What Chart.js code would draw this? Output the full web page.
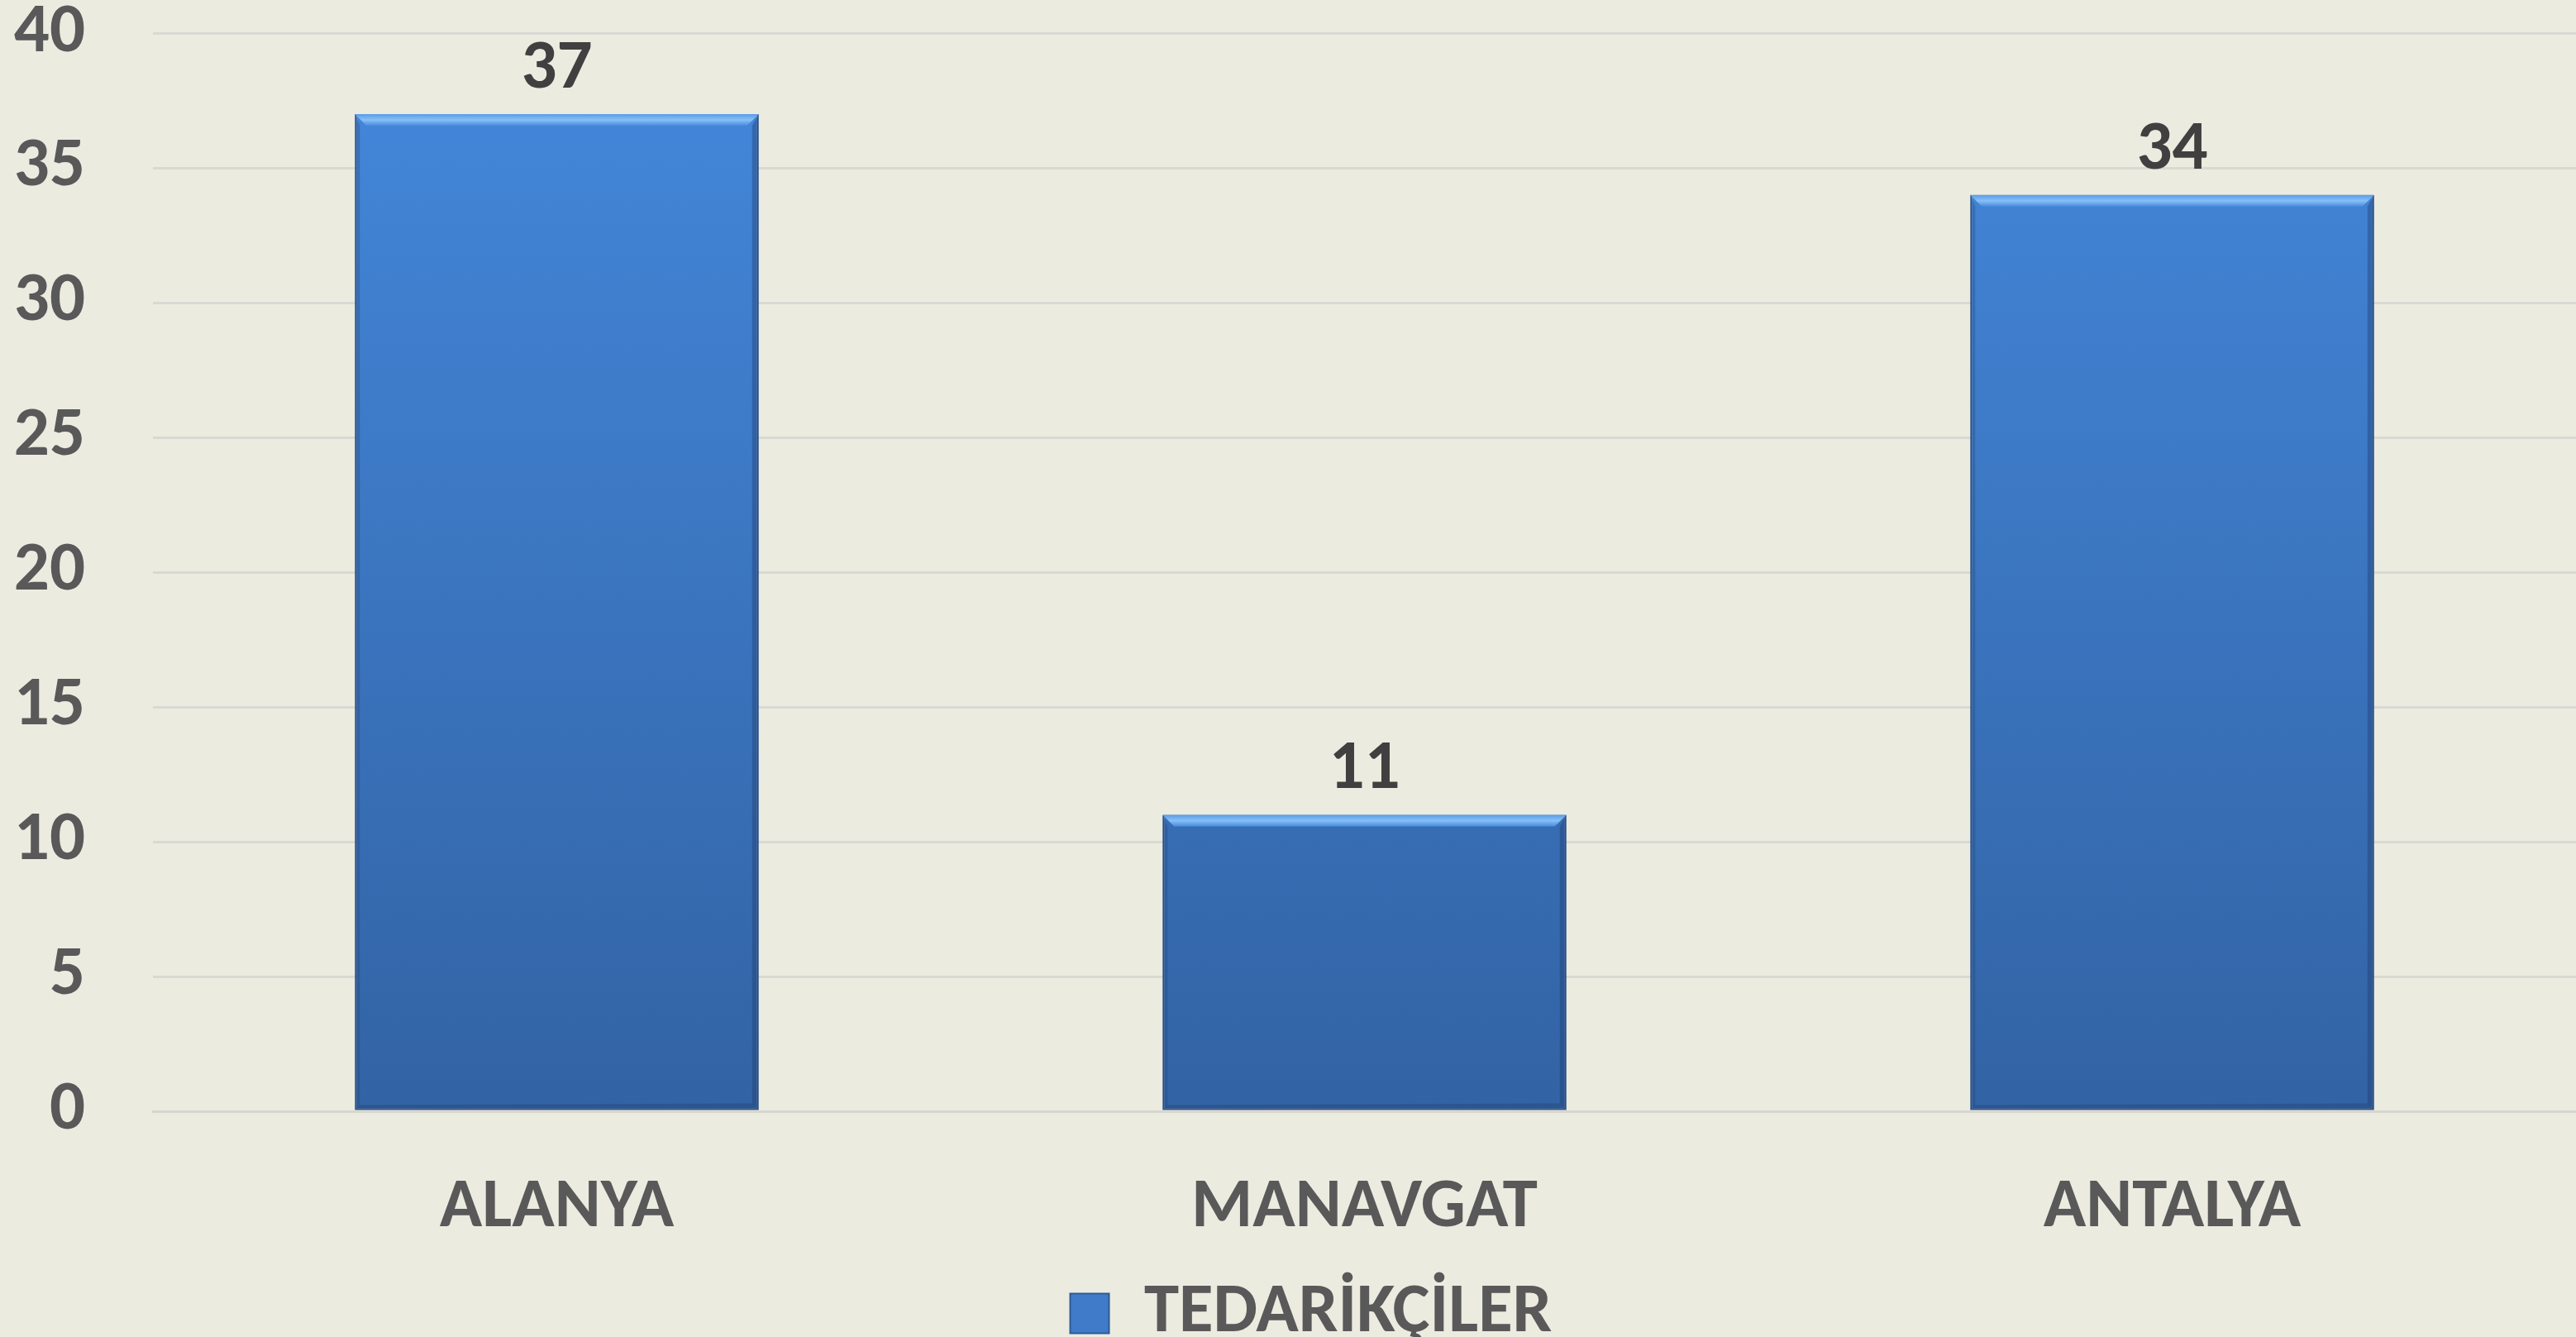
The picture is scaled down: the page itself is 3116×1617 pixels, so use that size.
<!DOCTYPE html>
<html>
<head>
<meta charset="utf-8">
<script src="https://cdn.jsdelivr.net/npm/chart.js@4.4.1/dist/chart.umd.min.js"></script>
<style>
  html, body { margin: 0; padding: 0; background: #ECEBE0; }
  #wrap { width: 3116px; height: 1617px; }
</style>
</head>
<body>
<div id="wrap"><canvas id="canvas" width="3116" height="1617"></canvas></div>
<script>
// veriler
var categories = ['ALANYA', 'MANAVGAT', 'ANTALYA'];
var seriesName = 'TEDARİKÇİLER';
var values = [37, 11, 34];
var yTicks = [0, 5, 10, 15, 20, 25, 30, 35, 40];

var FONT = 'Carlito, Lato, "Open Sans", sans-serif';
var FSIZE = 85;

// cubuklarin uzerine deger yazisi + kabartma efekti
var barDecor = {
  id: 'barDecor',
  afterDatasetsDraw: function (chart) {
    var ctx = chart.ctx;
    var meta = chart.getDatasetMeta(0);
    meta.data.forEach(function (bar, i) {
      var l = bar.x - bar.width / 2, r = bar.x + bar.width / 2;
      var t = bar.y, b = bar.base;
      ctx.save();
      // ust parlak kenar
      var hg = ctx.createLinearGradient(0, t, 0, t + 14);
      hg.addColorStop(0, '#5C9CE6');
      hg.addColorStop(0.5, '#86C0F7');
      hg.addColorStop(1, '#4A8CDD');
      ctx.fillStyle = hg;
      ctx.beginPath();
      ctx.moveTo(l, t); ctx.lineTo(r, t); ctx.lineTo(r - 14, t + 14); ctx.lineTo(l + 14, t + 14);
      ctx.closePath(); ctx.fill();
      // sag koyu kenar
      ctx.fillStyle = 'rgba(30,60,110,0.40)';
      ctx.beginPath();
      ctx.moveTo(r, t); ctx.lineTo(r, b); ctx.lineTo(r - 8, b - 8); ctx.lineTo(r - 8, t + 14);
      ctx.closePath(); ctx.fill();
      // sol kenar
      ctx.fillStyle = 'rgba(30,60,110,0.28)';
      ctx.beginPath();
      ctx.moveTo(l, t); ctx.lineTo(l + 6, t + 14); ctx.lineTo(l + 6, b - 6); ctx.lineTo(l, b);
      ctx.closePath(); ctx.fill();
      // alt kenar
      ctx.fillStyle = 'rgba(30,60,110,0.35)';
      ctx.beginPath();
      ctx.moveTo(l, b); ctx.lineTo(r, b); ctx.lineTo(r - 8, b - 8); ctx.lineTo(l + 6, b - 6);
      ctx.closePath(); ctx.fill();
      // deger
      ctx.fillStyle = '#404040';
      ctx.font = 'bold ' + FSIZE + 'px ' + FONT;
      ctx.textAlign = 'center';
      ctx.textBaseline = 'alphabetic';
      ctx.fillText(String(values[i]), bar.x, t - 32);
      ctx.restore();
    });
  }
};

// legend'i biraz saga kaydir (orijinalde ortanin az sagindaydi)
var legendShift = {
  id: 'legendShift',
  afterLayout: function (chart) {
    if (chart.legend) chart.legend.left += 56;
  }
};

function barGradient(context) {
  var area = context.chart.chartArea;
  if (!area) return '#3F7BC9';
  var g = context.chart.ctx.createLinearGradient(0, area.top, 0, area.bottom);
  g.addColorStop(0, '#4488DC');
  g.addColorStop(1, '#3263A4');
  return g;
}

var chart = new Chart(document.getElementById('canvas'), {
  type: 'bar',
  data: {
    labels: categories,
    datasets: [{
      label: seriesName,
      data: values,
      backgroundColor: barGradient,
      borderColor: '#2E5A94',
      borderWidth: 2,
      borderSkipped: false,
      barPercentage: 1.0,
      categoryPercentage: 0.5
    }]
  },
  options: {
    responsive: false,
    animation: false,
    layout: { padding: { top: 0, right: 0, bottom: -24, left: 0 } },
    scales: {
      x: {
        grid: { display: false, drawTicks: false },
        border: { display: true, color: '#D6D6D0', width: 3 },
        ticks: { color: '#595959', padding: 67, font: { family: FONT, size: FSIZE, weight: 'bold' } },
        afterFit: function (scale) { scale.height = 192; }
      },
      y: {
        min: 0, max: 40,
        afterBuildTicks: function (scale) {
          scale.ticks = yTicks.map(function (v) { return { value: v }; });
        },
        grid: { color: '#D9D9D4', lineWidth: 3, drawTicks: true, tickLength: 80, tickColor: 'rgba(0,0,0,0)' },
        border: { display: false },
        ticks: { color: '#595959', padding: 2, font: { family: FONT, size: FSIZE, weight: 'bold', lineHeight: 0.9 } },
        afterFit: function (scale) { scale.width = 185; }
      }
    },
    plugins: {
      tooltip: { enabled: false },
      legend: {
        position: 'bottom',
        labels: {
          color: '#595959',
          boxWidth: 47,
          boxHeight: 48,
          font: { family: FONT, size: FSIZE, weight: 'bold' },
          generateLabels: function (c) {
            return [{
              text: seriesName,
              fillStyle: '#3F7BC9',
              strokeStyle: '#2E5A94',
              lineWidth: 2,
              fontColor: '#595959',
              datasetIndex: 0
            }];
          }
        }
      }
    }
  },
  plugins: [barDecor, legendShift]
});
</script>
</body>
</html>
